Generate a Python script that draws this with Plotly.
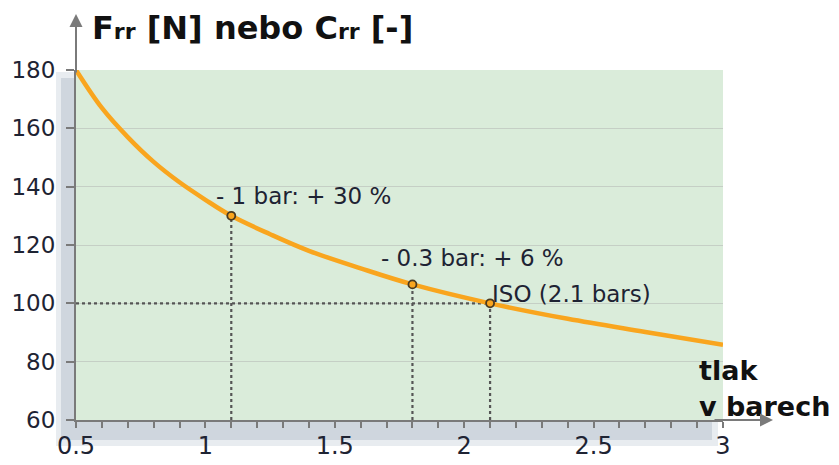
import plotly.graph_objects as go

# Curve: pressure [bar] -> rolling resistance
pressure = [0.5, 0.6, 0.7, 0.8, 0.9, 1.0, 1.1, 1.25, 1.4, 1.6, 1.8, 2.1, 2.4, 2.7, 3.0]
resistance = [180, 167, 157, 148.5, 141.5, 135.5, 130, 123.7, 118, 112, 106.5, 100, 94.7, 90.2, 85.8]

# Highlighted points
mark_x = [1.1, 1.8, 2.1]
mark_y = [130, 106.5, 100]
mark_labels = ["- 1 bar: + 30 %", "- 0.3 bar: + 6 %", "ISO (2.1 bars)"]
label_x = [1.033, 1.67, 2.10]
label_y = [136.8, 115.5, 103.2]

x_ticks = [0.5, 1, 1.5, 2, 2.5, 3]
x_ticktext = ["0.5", "1", "1.5", "2", "2.5", "3"]
y_ticks = [60, 80, 100, 120, 140, 160, 180]

X_MIN, X_MAX = 0.5, 3.0
Y_MIN, Y_MAX = 60, 180

FONT = "DejaVu Sans"
TEXT_COL = "#1e2333"
AXIS_COL = "#7a7a7a"

# page offset (browser body margin)
OFF = 8
L, T, W, H = 76, 70, 647, 350   # plot area in window pixels


def px(xp):
    return (xp - L) / W


def py(yp):
    return (T + H - yp) / H


fig = go.Figure()

# dotted guide lines
for mx, my in zip(mark_x, mark_y):
    fig.add_trace(go.Scatter(x=[mx, mx], y=[Y_MIN, my], mode="lines",
                             line=dict(color="#555555", width=2.2, dash="dot"),
                             hoverinfo="skip", showlegend=False))
fig.add_trace(go.Scatter(x=[X_MIN, mark_x[2]], y=[mark_y[2], mark_y[2]], mode="lines",
                         line=dict(color="#555555", width=2.2, dash="dot"),
                         hoverinfo="skip", showlegend=False))

# curve
fig.add_trace(go.Scatter(x=pressure, y=resistance, mode="lines",
                         line=dict(color="#F9A51E", width=4.5, shape="spline"),
                         showlegend=False))
# markers
fig.add_trace(go.Scatter(x=mark_x, y=mark_y, mode="markers",
                         marker=dict(size=8, color="#F9A51E",
                                     line=dict(color="#4a3a20", width=1.8)),
                         showlegend=False))

annotations = []
for lx, ly, t in zip(label_x, label_y, mark_labels):
    annotations.append(dict(x=lx, y=ly, xref="x", yref="y", text=t, showarrow=False,
                            xanchor="left", yanchor="middle",
                            font=dict(family=FONT, size=23, color=TEXT_COL)))

# title
annotations.append(dict(
    x=px(90), y=py(28), xref="paper", yref="paper",
    xanchor="left", yanchor="middle", showarrow=False,
    text="<b>F<span style='font-size:22px'>rr</span> [N] nebo C<span style='font-size:22px'>rr</span> [-]</b>",
    font=dict(family="DejaVu Sans", size=32, color="#111111")))
# x axis label
annotations.append(dict(x=px(697), y=py(370), xref="paper", yref="paper",
                        xanchor="left", yanchor="middle", showarrow=False,
                        text="<b>tlak</b>", font=dict(family="DejaVu Sans", size=27, color="#111111")))
annotations.append(dict(x=px(697), y=py(406), xref="paper", yref="paper",
                        xanchor="left", yanchor="middle", showarrow=False,
                        text="<b>v barech</b>", font=dict(family="DejaVu Sans", size=27, color="#111111")))
# axis arrows
annotations.append(dict(x=0, y=py(14), xref="paper", yref="paper", text="",
                        showarrow=True, ax=0, ay=60, arrowhead=2, arrowsize=1.3,
                        arrowwidth=2, arrowcolor=AXIS_COL))
annotations.append(dict(x=px(773), y=0, xref="paper", yref="paper", text="",
                        showarrow=True, ax=-60, ay=0, arrowhead=2, arrowsize=1.3,
                        arrowwidth=2, arrowcolor=AXIS_COL))

shapes = [
    # soft shadow
    dict(type="rect", xref="paper", yref="paper", layer="below",
         x0=px(56), x1=px(718), y0=py(446), y1=py(72),
         fillcolor="#e8ecf0", line=dict(width=0)),
    dict(type="rect", xref="paper", yref="paper", layer="below",
         x0=px(61), x1=px(712), y0=py(440), y1=py(78),
         fillcolor="#cfd6de", line=dict(width=0)),
    # green plot area
    dict(type="rect", xref="paper", yref="paper", layer="below",
         x0=0, x1=1, y0=0, y1=1, fillcolor="#daecda", line=dict(width=0)),
]

fig.update_layout(
    width=839, height=465,
    margin=dict(l=L - OFF, r=839 - (L - OFF) - W, t=T - OFF, b=465 - (T - OFF) - H),
    paper_bgcolor="white", plot_bgcolor="rgba(0,0,0,0)",
    annotations=annotations, shapes=shapes,
    xaxis=dict(range=[X_MIN, X_MAX], tickvals=x_ticks, ticktext=x_ticktext, automargin=False,
               showgrid=False, zeroline=False, showline=True, linecolor=AXIS_COL, linewidth=2,
               ticks="outside", ticklen=6, tickwidth=1.5, tickcolor=AXIS_COL,
               ticklabelstandoff=-3,
               minor=dict(dtick=0.1, ticks="outside", ticklen=6, tickwidth=1.5, tickcolor=AXIS_COL,
                          showgrid=False),
               tickfont=dict(family=FONT, size=24, color=TEXT_COL)),
    yaxis=dict(range=[Y_MIN, Y_MAX], tickvals=y_ticks, automargin=False,
               showgrid=True, gridcolor="#c5cfc5", gridwidth=1,
               zeroline=False, showline=True, linecolor=AXIS_COL, linewidth=2,
               ticks="outside", ticklen=8, tickwidth=1.5, tickcolor=AXIS_COL,
               ticklabelstandoff=6,
               tickfont=dict(family=FONT, size=23, color=TEXT_COL)),
)

fig.write_html("out.html")
